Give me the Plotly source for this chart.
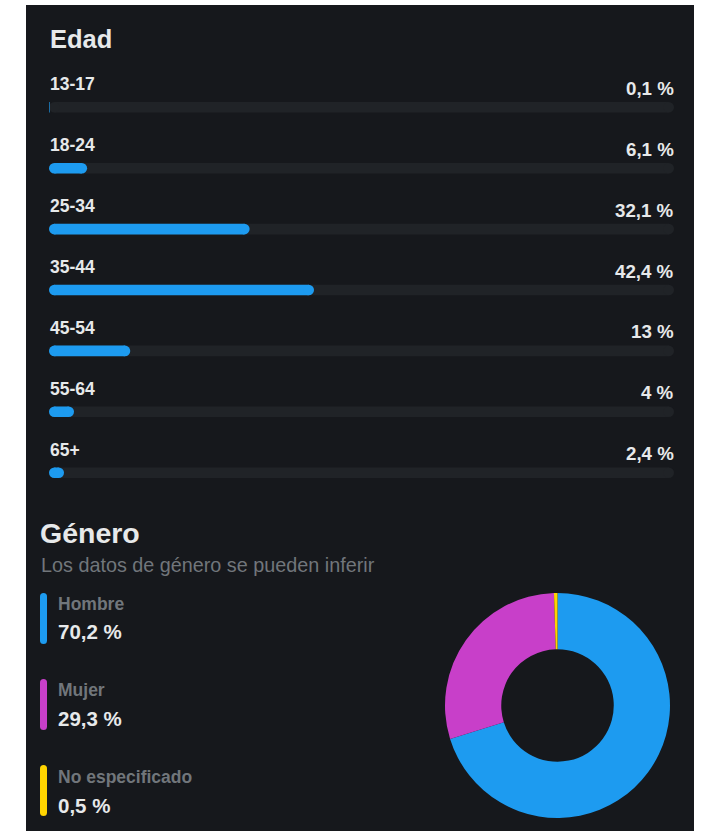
import plotly.graph_objects as go

# ---- data ----
age_groups = ["13-17", "18-24", "25-34", "35-44", "45-54", "55-64", "65+"]
age_values = [0.1, 6.1, 32.1, 42.4, 13, 4, 2.4]
age_texts = ["0,1 %", "6,1 %", "32,1 %", "42,4 %", "13 %", "4 %", "2,4 %"]
age_max = 100

gender_labels = ["Hombre", "Mujer", "No especificado"]
gender_values = [70.2, 29.3, 0.5]
gender_texts = ["70,2 %", "29,3 %", "0,5 %"]
gender_colors = ["#1d9bf0", "#c83fc9", "#ffd400"]

title_age = "Edad"
title_gender = "Género"
subtitle_gender = "Los datos de género se pueden inferir"

# ---- style ----
W, H = 703, 831
BG = "#16181c"
TRACK = "#202327"
BLUE = "#1d9bf0"
TXT = "#e7e9ea"
GRAY = "#71767b"
FONT = "Liberation Sans, Arial, sans-serif"

TRACK_X0, TRACK_X1 = 49, 674          # px extent of the bar tracks
THICK = 10.6                          # bar thickness in px


def X(px):
    return px / W


def Y(py):
    return 1 - py / H


# radius of the rounded bar ends, expressed in axis units
r_d = (THICK / 2) * age_max / (TRACK_X1 - TRACK_X0)


def pill_segments(vals):
    xs, ys, cx, cy = [], [], [], []
    for g, v in zip(age_groups, vals):
        if v >= 2 * r_d:
            xs += [r_d, v - r_d, None]
            cx += [r_d, v - r_d]
            cy += [g, g]
        else:
            xs += [0, v, None]
        ys += [g, g, None]
    return xs, ys, cx, cy


fig = go.Figure()

for vals, col in (([age_max] * len(age_groups), TRACK), (age_values, BLUE)):
    xs, ys, cx, cy = pill_segments(vals)
    fig.add_trace(go.Scatter(x=xs, y=ys, mode="lines",
                             line=dict(color=col, width=THICK),
                             hoverinfo="skip", showlegend=False))
    fig.add_trace(go.Scatter(x=cx, y=cy, mode="markers",
                             marker=dict(color=col, size=THICK, line=dict(width=0)),
                             hoverinfo="skip", showlegend=False))

first_c, step = 107.3, 60.9
n = len(age_groups)
top_px = first_c - step / 2
bot_px = first_c + (n - 1) * step + step / 2

fig.update_layout(
    width=W, height=H,
    margin=dict(l=0, r=0, t=0, b=0),
    paper_bgcolor="white", plot_bgcolor="rgba(0,0,0,0)",
    font=dict(family=FONT, color=TXT),
    xaxis=dict(domain=[X(TRACK_X0), X(TRACK_X1)], range=[0, age_max],
               visible=False, fixedrange=True),
    yaxis=dict(domain=[Y(bot_px), Y(top_px)], type="category",
               categoryorder="array", categoryarray=age_groups,
               range=[n - 0.5, -0.5], visible=False, fixedrange=True),
)

# donut
fig.add_trace(go.Pie(
    labels=gender_labels, values=gender_values,
    marker=dict(colors=gender_colors, line=dict(width=0)),
    hole=0.5, sort=False, direction="clockwise", rotation=0,
    textinfo="none", showlegend=False,
    domain=dict(x=[X(445), X(670)], y=[Y(818), Y(593)]),
))

shapes = [dict(type="rect", xref="paper", yref="paper",
               x0=X(26), x1=X(694), y0=Y(831), y1=Y(5),
               fillcolor=BG, line=dict(width=0), layer="below")]

# legend swatches (rounded)
sw_tops = [593, 679, 765]
sw_h = 51
for col, t in zip(gender_colors, sw_tops):
    x0, x1 = 40, 47
    y0, y1 = t, t + sw_h
    r = 3.5
    path = (f"M {X(x0)} {Y(y0 + r)} Q {X(x0)} {Y(y0)} {X(x0 + r)} {Y(y0)} "
            f"Q {X(x1)} {Y(y0)} {X(x1)} {Y(y0 + r)} "
            f"L {X(x1)} {Y(y1 - r)} Q {X(x1)} {Y(y1)} {X(x1 - r)} {Y(y1)} "
            f"Q {X(x0)} {Y(y1)} {X(x0)} {Y(y1 - r)} Z")
    shapes.append(dict(type="path", xref="paper", yref="paper", path=path,
                       fillcolor=col, line=dict(width=0)))

ann = []
ann.append(dict(text=f"<b>{title_age}</b>", x=X(48), y=Y(39), xref="paper", yref="paper",
                xanchor="left", yanchor="middle", showarrow=False,
                font=dict(size=25.5, color=TXT)))
for g, t in zip(age_groups, age_texts):
    ann.append(dict(text=g, x=0, y=g, xref="x", yref="y", xanchor="left", yanchor="middle",
                    yshift=23, xshift=-1, showarrow=False,
                    font=dict(size=17.5, color=TXT, weight=600)))
    ann.append(dict(text=f"<b>{t}</b>", x=age_max, y=g, xref="x", yref="y", xanchor="right",
                    yanchor="middle", yshift=19, xshift=2, showarrow=False,
                    font=dict(size=18.7, color=TXT)))

ann.append(dict(text=f"<b>{title_gender}</b>", x=X(38), y=Y(533), xref="paper", yref="paper",
                xanchor="left", yanchor="middle", showarrow=False,
                font=dict(size=28.5, color=TXT)))
ann.append(dict(text=subtitle_gender, x=X(39), y=Y(565), xref="paper", yref="paper",
                xanchor="left", yanchor="middle", showarrow=False,
                font=dict(size=19.8, color=GRAY)))

lab_y = [604, 690, 777]
val_y = [631, 718, 805]
for lab, val, ly, vy in zip(gender_labels, gender_texts, lab_y, val_y):
    ann.append(dict(text=lab, x=X(56), y=Y(ly), xref="paper", yref="paper",
                    xanchor="left", yanchor="middle", showarrow=False,
                    font=dict(size=17.5, color=GRAY, weight=600)))
    ann.append(dict(text=f"<b>{val}</b>", x=X(56), y=Y(vy), xref="paper", yref="paper",
                    xanchor="left", yanchor="middle", showarrow=False,
                    font=dict(size=20.5, color=TXT)))

fig.update_layout(shapes=shapes, annotations=ann)

fig.write_html(
    "out.html",
    config=dict(displayModeBar=False),
    post_script="document.body.style.margin='0';document.body.style.overflow='hidden';",
)
